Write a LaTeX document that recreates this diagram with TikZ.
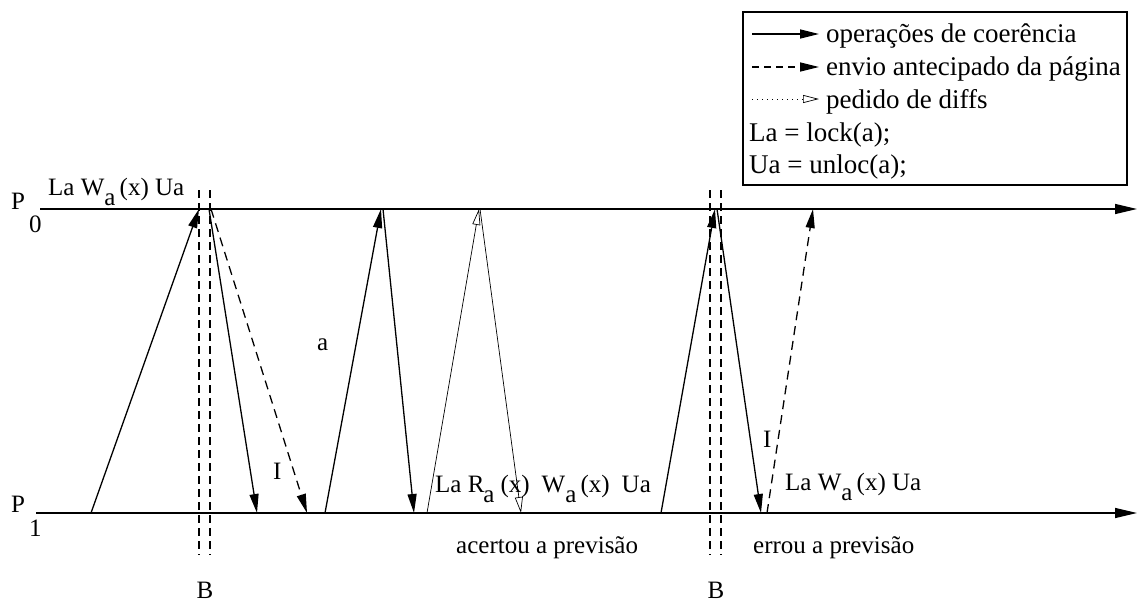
\documentclass[tikz,border=0pt]{standalone}
\usepackage{fontspec}
\setmainfont{Liberation Serif}
\usetikzlibrary{arrows.meta}
\begin{document}
\begin{tikzpicture}[x=1pt,y=-1pt,
  lbl/.style={inner sep=0pt, anchor=base west, font=\fontsize{25}{30}\selectfont},
  leg/.style={lbl, font=\fontsize{27}{32}\selectfont},
  msg/.style={line width=1.3pt, -{Triangle[length=19pt,width=9pt]}},
  pre/.style={msg, dash pattern=on 9pt off 6pt},
  dif/.style={line width=0.7pt, -{Triangle[open,length=16pt,width=8pt]}},
  barline/.style={line width=1.3pt, dash pattern=on 8pt off 5pt},
  axis/.style={line width=1.4pt, -{Triangle[length=22pt,width=10pt]}}]
\useasboundingbox (0,0) rectangle (1146,602);
\newcommand{\sbx}[1]{\raisebox{-10pt}{#1}}

% process lines
\coordinate (p0s) at (40,209);  \coordinate (p0e) at (1137,209);
\coordinate (p1s) at (36,513);  \coordinate (p1e) at (1137,513);
\draw[axis] (p0s) -- (p0e);
\draw[axis] (p1s) -- (p1e);
\node[lbl] (P0) at (11,209) {P};
\node[lbl] (P0i) at (29,232) {0};
\node[lbl] (P1) at (11,512) {P};
\node[lbl] (P1i) at (29,536) {1};

% barriers
\foreach \n/\x in {ba/199, bb/210, bc/710, bd/721}{
  \coordinate (\n t) at (\x,190); \coordinate (\n b) at (\x,555);
  \draw[barline] (\n t) -- (\n b);
}
\node[lbl, anchor=base] (B1) at (205,598) {B};
\node[lbl, anchor=base] (B2) at (716,598) {B};

% endpoints
\coordinate (m1a) at (91,513);  \coordinate (m1b) at (199,209);
\coordinate (m2a) at (209,209); \coordinate (m2b) at (257,513);
\coordinate (m3a) at (211,209); \coordinate (m3b) at (307,513);
\coordinate (m4a) at (325,513); \coordinate (m4b) at (381,209);
\coordinate (m5a) at (383,209); \coordinate (m5b) at (414,513);
\coordinate (m6a) at (427,513); \coordinate (m6b) at (479,209);
\coordinate (m7a) at (480,209); \coordinate (m7b) at (521,513);
\coordinate (m8a) at (661,513); \coordinate (m8b) at (715,209);
\coordinate (m9a) at (717,209); \coordinate (m9b) at (761,513);
\coordinate (m10a) at (767,513); \coordinate (m10b) at (813,209);

\draw[msg] (m1a) -- (m1b);
\draw[msg] (m2a) -- (m2b);
\draw[pre] (m3a) -- (m3b);
\draw[msg] (m4a) -- (m4b);
\draw[msg] (m5a) -- (m5b);
\draw[dif] (m6a) -- (m6b);
\draw[dif] (m7a) -- (m7b);
\draw[msg] (m8a) -- (m8b);
\draw[msg] (m9a) -- (m9b);
\draw[pre] (m10a) -- (m10b);

% labels
\node[lbl] (t1) at (48,195) {La W\sbx{a}\,(x) Ua};
\node[lbl] (ta) at (317,350) {a};
\node[lbl] (tI1) at (273,479) {I};
\node[lbl] (tI2) at (763,447) {I};
\node[lbl] (t2) at (435,492) {La R\hspace{-1pt}\sbx{a}\hspace{6pt}(x)\hspace{12pt}W\sbx{a}\,(x)\hspace{12pt}Ua};
\node[lbl] (t3) at (785,490) {La W\sbx{a}\,(x) Ua};
\node[lbl] (t4) at (456,553) {acertou a previsão};
\node[lbl] (t5) at (753,553) {errou a previsão};

% legend
\draw[line width=1.2pt] (743,12) rectangle (1127,185);
\coordinate (l1a) at (752,34); \coordinate (l1b) at (819,34);
\coordinate (l2a) at (752,67); \coordinate (l2b) at (819,67);
\coordinate (l3a) at (752,99); \coordinate (l3b) at (819,99);
\draw[msg] (l1a) -- (l1b);
\draw[msg, dash pattern=on 7pt off 5pt] (l2a) -- (l2b);
\draw[dif, dash pattern=on 1pt off 4pt] (l3a) -- (l3b);
\node[leg] (lg1) at (826,43) {operações de coerência};
\node[leg] (lg2) at (826,76) {envio antecipado da página};
\node[leg] (lg3) at (826,108) {pedido de diffs};
\node[leg] (lg4) at (749,141) {La = lock(a);};
\node[leg] (lg5) at (749,173) {Ua = unloc(a);};
\end{tikzpicture}
\end{document}
